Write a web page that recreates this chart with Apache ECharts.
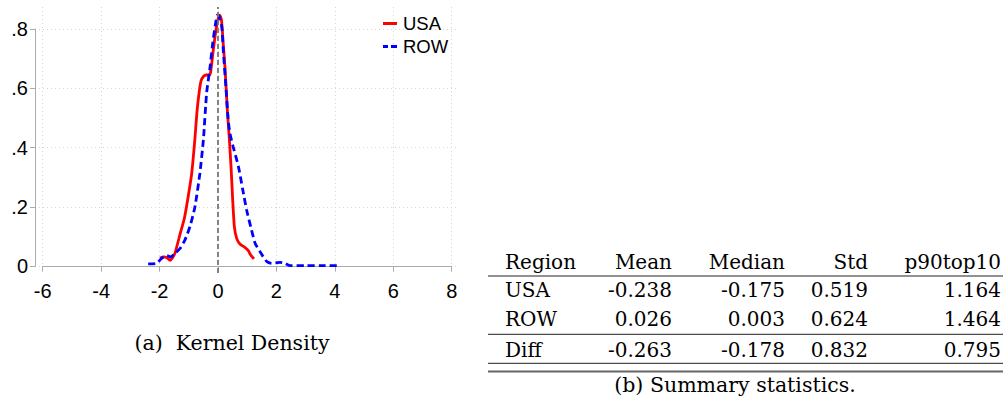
<!DOCTYPE html>
<html>
<head>
<meta charset="utf-8">
<script src="https://cdn.jsdelivr.net/npm/echarts@6/dist/echarts.min.js"></script>
<style>
  html, body { margin: 0; padding: 0; background: #fff; }
  #chart { width: 1003px; height: 398px; }
</style>
</head>
<body>
<div id="chart"></div>
<script>
// ---------- data ----------
const usaX = [-1.99, -1.85, -1.75, -1.64, -1.55, -1.47, -1.41, -1.30, -1.15, -1.02, -0.90, -0.79, -0.72, -0.64, -0.58, -0.50, -0.40, -0.30, -0.25, -0.16, -0.07, 0.01, 0.06, 0.12, 0.18, 0.24, 0.32, 0.39, 0.45, 0.50, 0.56, 0.64, 0.75, 0.92, 1.04, 1.12, 1.23];
const usaY = [0.028, 0.032, 0.029, 0.020, 0.030, 0.045, 0.066, 0.108, 0.162, 0.235, 0.313, 0.430, 0.520, 0.590, 0.625, 0.640, 0.645, 0.645, 0.656, 0.730, 0.797, 0.836, 0.847, 0.830, 0.750, 0.670, 0.527, 0.426, 0.330, 0.230, 0.134, 0.094, 0.075, 0.064, 0.053, 0.038, 0.025];

const rowX = [-2.39, -2.10, -1.93, -1.76, -1.62, -1.47, -1.30, -1.13, -0.96, -0.79, -0.62, -0.50, -0.39, -0.27, -0.18, -0.09, -0.02, 0.04, 0.13, 0.18, 0.27, 0.35, 0.41, 0.52, 0.70, 0.85, 0.98, 1.15, 1.27, 1.44, 1.67, 1.84, 2.02, 2.12, 2.29, 2.47, 3.00, 3.50, 4.10];
const rowY = [0.008, 0.010, 0.027, 0.036, 0.032, 0.044, 0.060, 0.089, 0.134, 0.200, 0.313, 0.426, 0.583, 0.673, 0.752, 0.814, 0.847, 0.842, 0.808, 0.730, 0.606, 0.493, 0.448, 0.403, 0.336, 0.257, 0.190, 0.122, 0.078, 0.049, 0.016, 0.010, 0.012, 0.013, 0.010, 0.002, 0.002, 0.002, 0.002];

const seriesNames = ['USA', 'ROW'];
const yTickLabels = { '0': '0', '0.2': '.2', '0.4': '.4', '0.6': '.6', '0.8': '.8' };
const refLineX = 0;

const tableHeader = ['Region', 'Mean', 'Median', 'Std', 'p90top10'];
const tableRegion = ['USA', 'ROW', 'Diff'];
const tableMean   = ['-0.238', '0.026', '-0.263'];
const tableMedian = ['-0.175', '0.003', '-0.178'];
const tableStd    = ['0.519', '0.624', '0.832'];
const tableP90    = ['1.164', '1.464', '0.795'];

const captionA = '(a)  Kernel Density';
const captionB = '(b) Summary statistics.';

// ---------- layout ----------
const zip = (xs, ys) => xs.map((x, i) => [x, ys[i]]);
const pxPerUnit = 296.6;
const plotTop = 7, zeroY = 266.3, axisY = 273;
const yMinA = -(axisY - zeroY) / pxPerUnit;
const yMaxA = (zeroY - plotTop) / pxPerUnit;

const sansFont = 'Liberation Sans, Arial, sans-serif';
const serifFont = 'DejaVu Serif, serif';
const gridColor = '#d6d6d6';
const axisColor = '#ababab';

// legend icons (solid / dashed line samples)
const iconSolid = 'path://M0,0h14v3h-14z';
const iconDashed = 'path://M0,0h5v3h-5z M8,0h6v3h-6z';

// table graphic
const colX = [505, 672, 785, 868, 1001];
const colAlign = ['left', 'right', 'right', 'right', 'right'];
const rowYpx = [261.5, 290, 318.5, 350];
const tableCols = [tableRegion, tableMean, tableMedian, tableStd, tableP90];
const tFont = { fontFamily: serifFont, fontSize: 20, fill: '#000' };
const graphics = [];
tableHeader.forEach((h, c) => {
  graphics.push({ type: 'text', x: colX[c], y: rowYpx[0],
    style: Object.assign({ text: h, textAlign: colAlign[c], textVerticalAlign: 'middle' }, tFont) });
});
tableCols.forEach((col, c) => {
  col.forEach((v, r) => {
    graphics.push({ type: 'text', x: colX[c], y: rowYpx[r + 1],
      style: Object.assign({ text: v, textAlign: colAlign[c], textVerticalAlign: 'middle' }, tFont) });
  });
});
const rules = [[276, 1, '#222'], [334.3, 1, '#222'], [363.3, 1, '#222'], [371.5, 2, '#666']];
rules.forEach(([y, w, col]) => {
  graphics.push({ type: 'line', shape: { x1: 488, y1: y, x2: 1003, y2: y },
    style: { stroke: col, lineWidth: w } });
});
graphics.push({ type: 'text', x: 232, y: 343,
  style: { text: captionA, textAlign: 'center', textVerticalAlign: 'middle', fontFamily: serifFont, fontSize: 20.5, fill: '#000' } });
graphics.push({ type: 'text', x: 735, y: 385,
  style: { text: captionB, textAlign: 'center', textVerticalAlign: 'middle', fontFamily: serifFont, fontSize: 20.5, fill: '#000' } });

const chart = echarts.init(document.getElementById('chart'), null, { renderer: 'svg' });
chart.setOption({
  animation: false,
  backgroundColor: '#fff',
  grid: [
    { left: 42.7, right: 1003 - 451.7, top: plotTop, bottom: 398 - axisY, containLabel: false },
    { left: 35, right: 1003 - 458, top: zeroY - 0.8 * pxPerUnit, bottom: 398 - zeroY, containLabel: false }
  ],
  xAxis: [
    { type: 'value', gridIndex: 0, min: -6, max: 8, interval: 2,
      axisLine: { show: true, lineStyle: { color: axisColor, width: 1 } },
      axisTick: { show: true, length: 5, lineStyle: { color: axisColor } },
      axisLabel: { color: '#000', fontFamily: sansFont, fontSize: 20, margin: 8,
        formatter: v => String(v) },
      splitLine: { show: true, lineStyle: { color: gridColor, type: [1, 3], width: 1 } } },
    { type: 'value', gridIndex: 1, min: 0, max: 1, show: false }
  ],
  yAxis: [
    { type: 'value', gridIndex: 0, min: yMinA, max: yMaxA, show: false,
      splitLine: { show: false } },
    { type: 'value', gridIndex: 1, min: 0, max: 0.8, interval: 0.2,
      axisLine: { show: true, lineStyle: { color: axisColor, width: 1 } },
      axisTick: { show: true, length: 5, lineStyle: { color: axisColor } },
      axisLabel: { color: '#000', fontFamily: sansFont, fontSize: 20, margin: 7,
        formatter: v => yTickLabels[String(Math.round(v * 10) / 10)] },
      splitLine: { show: true, lineStyle: { color: gridColor, type: [1, 3], width: 1 } } }
  ],
  legend: {
    orient: 'vertical', left: 383, top: 14, padding: 0,
    itemWidth: 14, itemHeight: 3, itemGap: 4,
    data: [
      { name: seriesNames[0], icon: iconSolid, itemStyle: { color: '#ff0000' } },
      { name: seriesNames[1], icon: iconDashed, itemStyle: { color: '#0000ff' } }
    ],
    textStyle: { fontFamily: sansFont, fontSize: 18.5, color: '#000', padding: [0, 0, 0, 1] }
  },
  series: [
    { name: seriesNames[0], type: 'line', xAxisIndex: 0, yAxisIndex: 0,
      data: zip(usaX, usaY), symbol: 'none', smooth: 0.2, clip: false,
      lineStyle: { color: '#ff0000', width: 2.8 }, itemStyle: { color: '#ff0000' }, z: 3,
      markLine: { silent: true, symbol: 'none', label: { show: false },
        lineStyle: { color: '#777', type: [5, 3], width: 1.8 },
        data: [{ xAxis: refLineX }] } },
    { name: seriesNames[1], type: 'line', xAxisIndex: 0, yAxisIndex: 0,
      data: zip(rowX, rowY), symbol: 'none', smooth: 0.2, clip: false,
      lineStyle: { color: '#0000ff', width: 2.8, type: [7, 4] }, itemStyle: { color: '#0000ff' }, z: 4 }
  ],
  graphic: graphics
});
</script>
</body>
</html>
